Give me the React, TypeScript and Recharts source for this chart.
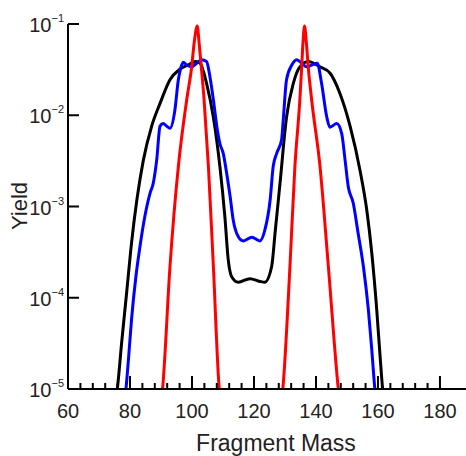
import { LineChart, Line, XAxis, YAxis, Label } from 'recharts';

// fragment mass (x) and yield (y), one pair of arrays per curve
const blackMass = [75.5, 75.9, 77.3, 78.9, 80.5, 82.2, 84.3, 87.0, 89.7, 92.9, 96.1, 99.0, 101.2, 102.6, 104.7, 106.9, 109.0, 110.6, 111.7, 112.8, 114.9, 118.7, 121.9, 123.5, 125.7, 126.8, 128.4, 130.5, 132.7, 134.8, 137.5, 141.3, 144.5, 147.7, 151.0, 154.2, 156.4, 158.0, 159.6, 160.6, 161.5, 161.8];
const blackYield = [8e-6, 1.0e-5, 3.2e-5, 1.12e-4, 4.0e-4, 1.17e-3, 3.2e-3, 7.6e-3, 1.35e-2, 2.45e-2, 3.2e-2, 3.6e-2, 3.89e-2, 3.72e-2, 2.24e-2, 9.5e-3, 2.75e-3, 7.8e-4, 2.6e-4, 1.7e-4, 1.48e-4, 1.62e-4, 1.51e-4, 1.48e-4, 2.2e-4, 5.1e-4, 1.8e-3, 9.5e-3, 2.24e-2, 3.39e-2, 3.89e-2, 3.39e-2, 2.9e-2, 1.74e-2, 7.6e-3, 2.5e-3, 9.1e-4, 3.1e-4, 7.4e-5, 2.5e-5, 1.0e-5, 8e-6];

const blueMass = [78.4, 78.7, 79.5, 80.5, 81.9, 83.2, 84.8, 86.5, 87.5, 88.6, 89.7, 90.7, 91.8, 92.9, 94.5, 95.6, 96.4, 97.2, 98.3, 99.9, 101.5, 103.1, 104.7, 105.8, 106.9, 108.0, 109.0, 110.1, 111.2, 112.3, 113.3, 114.9, 116.6, 119.3, 121.9, 123.5, 125.2, 126.2, 127.3, 128.9, 129.5, 130.5, 132.2, 133.8, 135.4, 137.0, 138.6, 140.4, 141.8, 143.5, 144.5, 146.7, 148.3, 149.4, 150.4, 152.0, 153.6, 155.3, 156.9, 158.0, 159.0, 159.3];
const blueYield = [8e-6, 1.0e-5, 2.1e-5, 5.8e-5, 1.7e-4, 3.6e-4, 7.8e-4, 1.41e-3, 1.8e-3, 3.2e-3, 7.6e-3, 8.1e-3, 7.6e-3, 7.2e-3, 1.15e-2, 2.45e-2, 3.3e-2, 3.8e-2, 3.55e-2, 3.39e-2, 3.72e-2, 4.07e-2, 3.89e-2, 2.63e-2, 1.48e-2, 7.6e-3, 4.9e-3, 3.8e-3, 2.3e-3, 1.29e-3, 7.1e-4, 4.7e-4, 4.2e-4, 4.6e-4, 4.2e-4, 5.5e-4, 1.17e-3, 2.75e-3, 3.8e-3, 5.4e-3, 9.5e-3, 2.45e-2, 3.55e-2, 4.07e-2, 3.72e-2, 3.39e-2, 3.55e-2, 3.72e-2, 2.24e-2, 9.5e-3, 7.4e-3, 8.1e-3, 6.3e-3, 3.2e-3, 1.66e-3, 1.1e-3, 5.1e-4, 2.2e-4, 7.4e-5, 2.7e-5, 1.0e-5, 8e-6];

const redLeftMass = [90.2, 90.5, 92.9, 95.6, 98.3, 99.9, 100.7, 101.7, 102.3, 103.0, 103.9, 105.3, 106.9, 108.8, 109.1];
const redLeftYield = [8e-6, 1.0e-5, 2.2e-4, 2.75e-3, 1.48e-2, 3.4e-2, 6.2e-2, 9.5e-2, 6.2e-2, 3.4e-2, 1.48e-2, 2.75e-3, 2.2e-4, 1.0e-5, 8e-6];

const redRightMass = [129.0, 129.3, 131.6, 133.2, 134.8, 135.4, 135.8, 136.3, 136.9, 137.5, 138.6, 141.3, 144.0, 147.2, 147.5];
const redRightYield = [8e-6, 1.0e-5, 2.2e-4, 2.75e-3, 1.48e-2, 3.4e-2, 6.2e-2, 9.5e-2, 6.2e-2, 3.4e-2, 1.48e-2, 2.75e-3, 2.2e-4, 1.0e-5, 8e-6];

const xTicks = [60, 64, 68, 72, 76, 80, 84, 88, 92, 96, 100, 104, 108, 112, 116, 120, 124, 128, 132, 136, 140, 144, 148, 152, 156, 160, 164, 168, 172, 176, 180];
const yTicks = [1e-5, 1e-4, 1e-3, 1e-2, 1e-1];

const FONT = '"Liberation Sans", Arial, sans-serif';
const TEXT = '#222';

const toPoints = (mass: number[], yields: number[]) =>
  mass.map((m, i) => ({ mass: m, yield: yields[i] }));

function XTick({ x, y, payload }: any) {
  const major = payload.value % 20 === 0;
  return (
    <g>
      <line x1={x} x2={x} y1={y} y2={y - (major ? 13 : 6)} stroke="#000" strokeWidth={2} />
      {major && (
        <text x={x} y={y + 29} textAnchor="middle" fontFamily={FONT} fontSize={20} fill={TEXT}>
          {payload.value}
        </text>
      )}
    </g>
  );
}

function YTick({ x, y, payload }: any) {
  const exp = Math.round(Math.log10(payload.value));
  return (
    <g>
      <line x1={x} x2={x + 11} y1={y} y2={y} stroke="#000" strokeWidth={2} />
      <text x={x - 4} y={y + 8} textAnchor="end" fontFamily={FONT} fontSize={20} fill={TEXT}>
        10
        <tspan dy={-10} fontSize={11}>{'\u2212' + Math.abs(exp)}</tspan>
      </text>
    </g>
  );
}

export default function App() {
  const black = toPoints(blackMass, blackYield);
  const blue = toPoints(blueMass, blueYield);
  const redLeft = toPoints(redLeftMass, redLeftYield);
  const redRight = toPoints(redRightMass, redRightYield);

  return (
    <div style={{ position: 'absolute', left: 0, top: 0, background: '#fff' }}>
      <LineChart width={466} height={456} margin={{ top: 24, right: 0, left: 8, bottom: 37 }}>
        <XAxis
          dataKey="mass"
          type="number"
          domain={[60, 188.4]}
          ticks={xTicks}
          interval={0}
          allowDataOverflow
          height={30}
          tickSize={0}
          tickMargin={0}
          tickLine={false}
          axisLine={{ stroke: '#000', strokeWidth: 2 }}
          tick={<XTick />}
        >
          <Label
            content={() => (
              <text x={276} y={451} textAnchor="middle" fontFamily={FONT} fontSize={23} fill={TEXT}>
                Fragment Mass
              </text>
            )}
          />
        </XAxis>
        <YAxis
          dataKey="yield"
          scale="log"
          domain={[1e-5, 1e-1]}
          ticks={yTicks}
          interval={0}
          allowDataOverflow
          width={60}
          tickSize={0}
          tickMargin={0}
          tickLine={false}
          axisLine={{ stroke: '#000', strokeWidth: 2 }}
          tick={<YTick />}
        >
          <Label
            content={() => (
              <text
                x={27}
                y={206}
                textAnchor="middle"
                fontFamily={FONT}
                fontSize={22}
                fill={TEXT}
                transform="rotate(-90 27 206)"
              >
                Yield
              </text>
            )}
          />
        </YAxis>
        <Line data={black} dataKey="yield" type="monotone" stroke="#000" strokeWidth={3} dot={false} isAnimationActive={false} />
        <Line data={blue} dataKey="yield" type="monotone" stroke="#0000ff" strokeWidth={3} dot={false} isAnimationActive={false} />
        <Line data={redLeft} dataKey="yield" type="monotone" stroke="#ff0000" strokeWidth={3} dot={false} isAnimationActive={false} />
        <Line data={redRight} dataKey="yield" type="monotone" stroke="#ff0000" strokeWidth={3} dot={false} isAnimationActive={false} />
      </LineChart>
    </div>
  );
}
